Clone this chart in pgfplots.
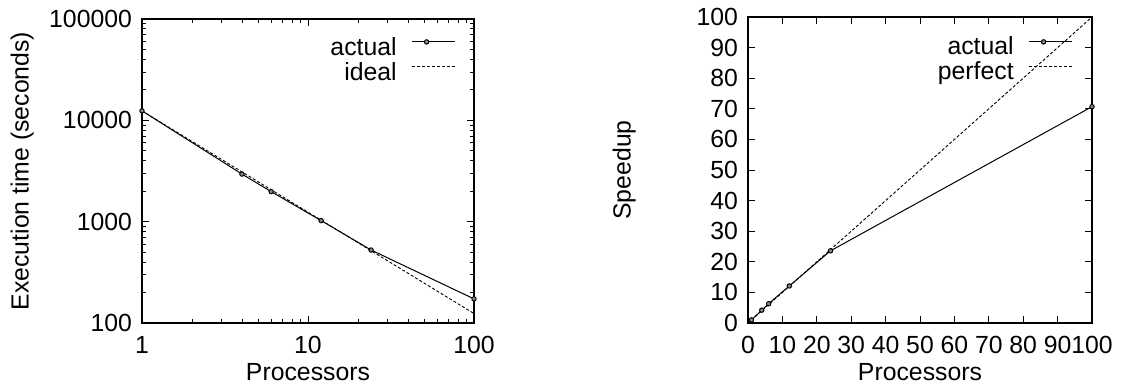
\documentclass[border=0pt]{standalone}
\usepackage{fontspec}
\setmainfont{Liberation Sans}
\usepackage{pgfplots}
\pgfplotsset{compat=1.18}
\begin{document}
\begin{tikzpicture}
\pgfplotsset{
  every axis/.append style={
    scale only axis,
    font=\fontsize{12.4pt}{14pt}\selectfont,
    /pgf/number format/assume math mode=true,
    /pgf/number format/1000 sep={},
    tick align=inside,
    major tick length=3.5pt,
    minor tick length=2pt,
    axis line style={line width=0.6pt},
    every tick/.style={line width=0.4pt, black},
    legend style={draw=none, fill=none, inner sep=0pt, anchor=north east,
      row sep=1pt, font=\fontsize{12.4pt}{14pt}\selectfont,
      nodes={inner sep=0pt, text height=9pt, text depth=2.5pt}},
    legend plot pos=right,
    legend cell align=right,
    legend image code/.code={\path (0pt,0pt); \draw[mark repeat=2,mark phase=2,#1] plot coordinates {(7.5pt,3.3pt) (14.7pt,3.3pt) (29pt,3.3pt)};},
    xlabel style={at={(axis description cs:0.5,0)}, anchor=center, yshift=-24.5pt},
    xticklabel style={yshift=-3pt},
    yticklabel style={xshift=-1.5pt},
  },
}
\useasboundingbox (-71pt,-32pt) rectangle (501.5pt,161.5pt);
\begin{axis}[
  at={(0pt,0pt)}, anchor=south west,
  width=166pt, height=152pt,
  xmode=log, ymode=log,
  xmin=1, xmax=100, ymin=100, ymax=100000,
  xtick={1,10,100}, ytick={100,1000,10000,100000},
  log ticks with fixed point,
  xlabel={Processors},
  ylabel={Execution time (seconds)},
  ylabel style={at={(axis description cs:-0.361,0.5)}, anchor=center},
  legend style={at={(axis description cs:0.946,0.942)}},
]
\addplot[black, line width=0.5pt, mark=*, mark size=1.1pt, mark options={solid, fill=black!45, line width=0.5pt}]
  coordinates {(1,12400) (4,2950) (6,1980) (12,1025) (24,525) (100,173)};
\addlegendentry{actual}
\addplot[black, line width=0.45pt, dash pattern=on 1.5pt off 1pt]
  coordinates {(1,12400) (100,124)};
\addlegendentry{ideal}
\end{axis}
\begin{axis}[
  at={(303pt,0pt)}, anchor=south west,
  width=172pt, height=153pt,
  xmin=0, xmax=100, ymin=0, ymax=100,
  xtick={0,10,...,100}, ytick={0,10,...,100},
  xlabel={Processors},
  ylabel={Speedup},
  ylabel style={at={(axis description cs:-0.36,0.5)}, anchor=center},
  legend style={at={(axis description cs:0.945,0.936)}},
]
\addplot[black, line width=0.5pt, mark=*, mark size=1.1pt, mark options={solid, fill=black!45, line width=0.5pt}]
  coordinates {(1,1) (4,4.2) (6,6.3) (12,12.1) (24,23.6) (100,70.7)};
\addlegendentry{actual}
\addplot[black, line width=0.45pt, dash pattern=on 1.5pt off 1pt]
  coordinates {(1,1) (100,100)};
\addlegendentry{perfect}
\end{axis}
\end{tikzpicture}
\end{document}
